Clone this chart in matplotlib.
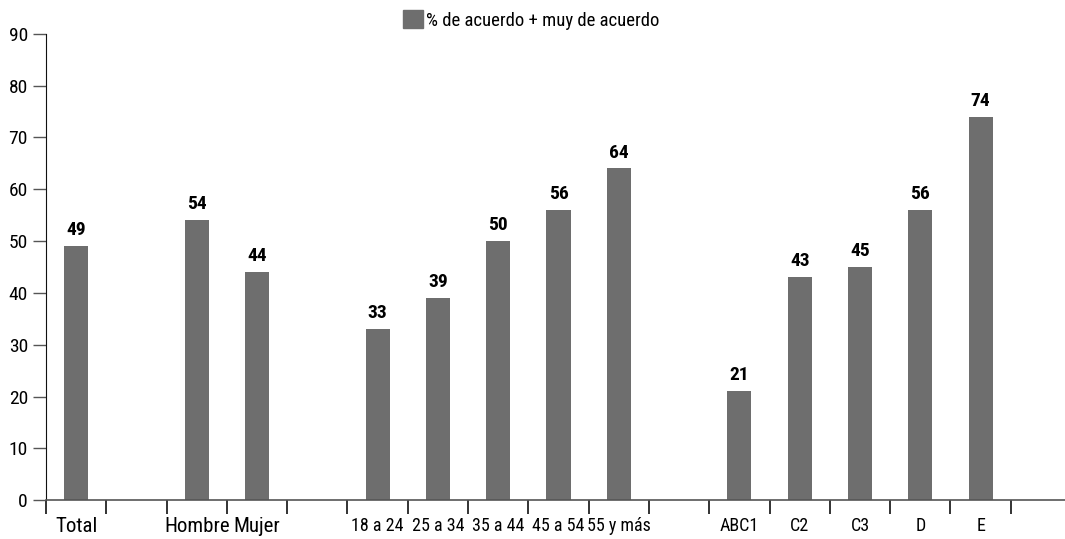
import matplotlib.pyplot as plt
from matplotlib.patches import Patch

plt.rcParams['font.family'] = ['Roboto Condensed', 'DejaVu Sans']
plt.rcParams['font.stretch'] = 'condensed'

# categorías (None = hueco entre grupos)
categorias = ['Total', None, 'Hombre', 'Mujer', None,
              '18 a 24', '25 a 34', '35 a 44', '45 a 54', '55 y más', None,
              'ABC1', 'C2', 'C3', 'D', 'E']
valores = [49, None, 54, 44, None,
           33, 39, 50, 56, 64, None,
           21, 43, 45, 56, 74]
serie = '% de acuerdo + muy de acuerdo'
color_barra = '#6e6e6e'

fig = plt.figure(figsize=(10.65, 5.39), dpi=100)
ax = fig.add_axes([46 / 1065, 0.0718, 1 - 46 / 1065, 0.9375 - 0.0718])

for i, v in enumerate(valores):
    if v is None:
        continue
    ax.bar(i + 0.5, v, width=0.4, color=color_barra, zorder=2)
    ax.annotate(str(v), (i + 0.5, v), xytext=(0, 5), textcoords='offset points',
                ha='center', va='bottom', fontsize=14, fontweight='bold')

ax.set_xlim(0, 16.9)
ax.set_ylim(0, 90)
ax.set_yticks(range(0, 91, 10))
ax.tick_params(axis='y', length=9.5, width=1, color='#555555', pad=3.5, labelsize=14)

# marcas entre categorías y etiquetas centradas en cada hueco
ax.set_xticks(range(0, 17))
ax.set_xticklabels([])
ax.tick_params(axis='x', which='major', length=10, width=1.2, color='#111111')
pos = [i + 0.5 for i, c in enumerate(categorias) if c]
etiquetas = [c for c in categorias if c]
ax.set_xticks(pos, minor=True)
ax.set_xticklabels(etiquetas, minor=True)
ax.tick_params(axis='x', which='minor', length=0, pad=12)
for lbl in ax.get_xticklabels(minor=True):
    lbl.set_fontsize(15 if lbl.get_text() in ('Total', 'Hombre', 'Mujer') else 13)

for s in ('top', 'right'):
    ax.spines[s].set_visible(False)
ax.spines['left'].set_color('#111111')
ax.spines['bottom'].set_color('#555555')
ax.spines['bottom'].set_linewidth(1.2)

fig.legend(handles=[Patch(color=color_barra, label=serie)], loc='upper center',
           bbox_to_anchor=(0.499, 1.012), frameon=False, fontsize=13.5,
           handlelength=1.05, handleheight=1.1, handletextpad=0.2)

fig.savefig('out.png', dpi=100)
